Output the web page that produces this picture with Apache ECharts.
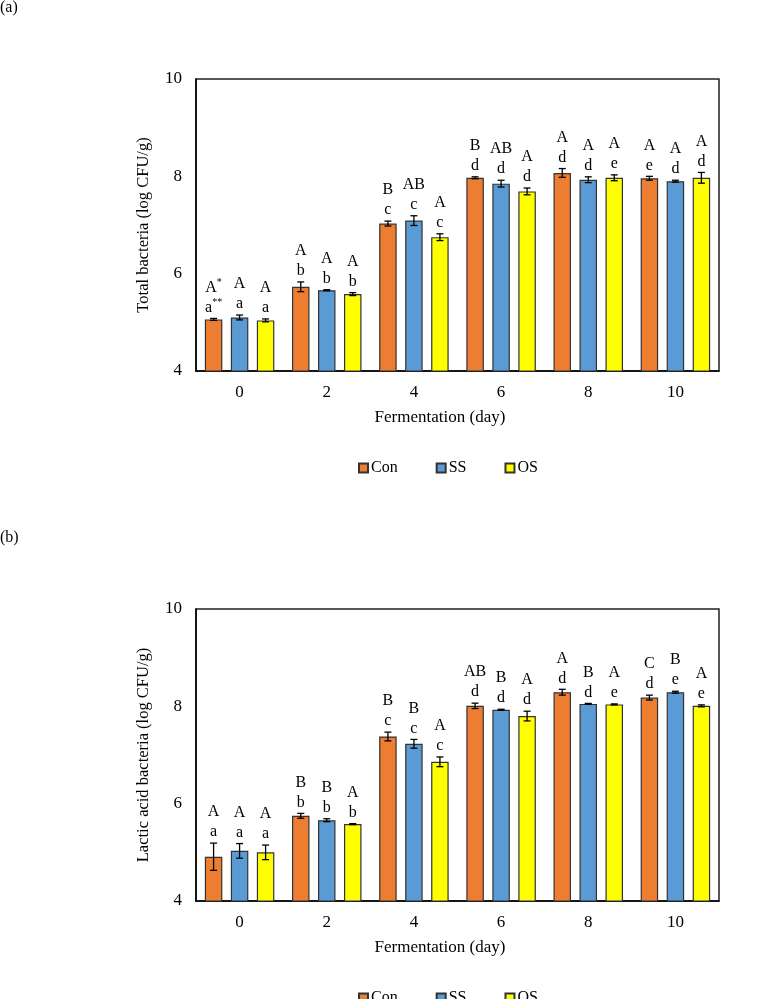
<!DOCTYPE html>
<html>
<head>
<meta charset="utf-8">
<script src="https://cdn.jsdelivr.net/npm/echarts@6/dist/echarts.min.js"></script>
<style>
  html, body { margin: 0; padding: 0; background: #fff; }
  #main { width: 757px; height: 999px; }
</style>
</head>
<body>
<div id="main"></div>
<script>
// fermentation days
const days = ['0', '2', '4', '6', '8', '10']

// (a) total bacteria, log CFU/g
const totalCon = [5.06, 5.73, 7.03, 7.97, 8.07, 7.96]
const totalConErr = [0.02, 0.10, 0.05, 0.02, 0.09, 0.04]
const totalSS = [5.10, 5.66, 7.09, 7.85, 7.93, 7.90]
const totalSSErr = [0.05, 0.01, 0.10, 0.07, 0.06, 0.02]
const totalOS = [5.04, 5.58, 6.75, 7.69, 7.97, 7.97]
const totalOSErr = [0.03, 0.03, 0.07, 0.07, 0.06, 0.11]
const totalConUpper = ['A*', 'A', 'B', 'B', 'A', 'A']
const totalConLower = ['a**', 'b', 'c', 'd', 'd', 'e']
const totalSSUpper = ['A', 'A', 'AB', 'AB', 'A', 'A']
const totalSSLower = ['a', 'b', 'c', 'd', 'd', 'd']
const totalOSUpper = ['A', 'A', 'A', 'A', 'A', 'A']
const totalOSLower = ['a', 'b', 'c', 'd', 'e', 'd']

// (b) lactic acid bacteria, log CFU/g
const lacCon = [4.91, 5.75, 7.38, 8.01, 8.29, 8.18]
const lacConErr = [0.28, 0.05, 0.09, 0.055, 0.06, 0.05]
const lacSS = [5.03, 5.66, 7.23, 7.93, 8.05, 8.29]
const lacSSErr = [0.15, 0.03, 0.09, 0.01, 0.01, 0.02]
const lacOS = [5.00, 5.58, 6.86, 7.80, 8.04, 8.01]
const lacOSErr = [0.15, 0.01, 0.10, 0.10, 0.01, 0.02]
const lacConUpper = ['A', 'B', 'B', 'AB', 'A', 'C']
const lacConLower = ['a', 'b', 'c', 'd', 'd', 'd']
const lacSSUpper = ['A', 'B', 'B', 'B', 'B', 'B']
const lacSSLower = ['a', 'b', 'c', 'd', 'd', 'e']
const lacOSUpper = ['A', 'A', 'A', 'A', 'A', 'A']
const lacOSLower = ['a', 'b', 'c', 'd', 'e', 'e']

const yTicks = [4, 6, 8, 10]

const names = ['Con', 'SS', 'OS']
const colors = ['#ED7D31', '#5B9BD5', '#FFFF00']
const FONT = '"Liberation Serif", "Times New Roman", serif'
const BAR_W = 17.5
const BAR_STEP = 26

// letters with trailing asterisks -> rich text with superscript
function richLetter(s) {
  let m = s.match(/^([^*]*)(\**)$/)
  let out = `{n|${m[1]}}`
  if (m[2]) out += `{s|${m[2]}}`
  return out
}

function errSeries(gridIdx, k, vals, errs, upper, lower) {
  let offset = (k - 1) * BAR_STEP
  return {
    type: 'custom',
    xAxisIndex: gridIdx,
    yAxisIndex: gridIdx,
    z: 5,
    clip: false,
    silent: true,
    encode: { x: 0, y: 1 },
    data: vals.map((v, i) => [i, v, errs[i]]),
    renderItem: (params, api) => {
      let i = api.value(0), v = api.value(1), e = api.value(2)
      let x = api.coord([i, v])[0] + offset
      let yt = api.coord([i, v + e])[1]
      let yb = api.coord([i, v - e])[1]
      let line = { stroke: '#000', lineWidth: 1.3 }
      let text = richLetter(upper[params.dataIndex]) + '\n' + richLetter(lower[params.dataIndex])
      return {
        type: 'group',
        children: [
          { type: 'line', shape: { x1: x, y1: yt, x2: x, y2: yb }, style: line },
          { type: 'line', shape: { x1: x - 3.5, y1: yt, x2: x + 3.5, y2: yt }, style: line },
          { type: 'line', shape: { x1: x - 3.5, y1: yb, x2: x + 3.5, y2: yb }, style: line },
          {
            type: 'text',
            style: {
              text: text,
              x: x,
              y: yt - 1,
              align: 'center',
              verticalAlign: 'bottom',
              fill: '#000',
              rich: {
                n: { fontFamily: FONT, fontSize: 16, lineHeight: 20, fill: '#000' },
                s: { fontFamily: FONT, fontSize: 10, lineHeight: 20, verticalAlign: 'top', fill: '#000', padding: [0, 0, 6, 0] }
              }
            }
          }
        ]
      }
    }
  }
}

function barSeries(gridIdx, k, vals) {
  return {
    name: names[k],
    type: 'bar',
    xAxisIndex: gridIdx,
    yAxisIndex: gridIdx,
    barWidth: BAR_W,
    barGap: ((BAR_STEP - BAR_W) / BAR_W * 100) + '%',
    data: vals,
    itemStyle: { color: colors[k], borderColor: '#333', borderWidth: 1.2 }
  }
}

function xAxis(gridIdx) {
  return {
    type: 'category',
    gridIndex: gridIdx,
    data: days,
    axisTick: { show: false },
    axisLine: { lineStyle: { color: '#000', width: 1.5 } },
    axisLabel: { color: '#000', fontFamily: FONT, fontSize: 17, margin: 13 }
  }
}

function yAxis(gridIdx, title) {
  return {
    type: 'value',
    gridIndex: gridIdx,
    min: yTicks[0],
    max: yTicks[yTicks.length - 1],
    interval: 2,
    name: title,
    nameLocation: 'middle',
    nameGap: 44,
    nameTextStyle: { color: '#000', fontFamily: FONT, fontSize: 16.5 },
    splitLine: { show: false },
    axisTick: { show: false },
    axisLine: { show: true, lineStyle: { color: '#000', width: 1.5 } },
    axisLabel: { color: '#000', fontFamily: FONT, fontSize: 17, margin: 14 }
  }
}

function legend(top) {
  return {
    data: names,
    left: 353,
    top: top,
    icon: 'rect',
    itemWidth: 9,
    itemHeight: 9,
    itemGap: 38,
    selectedMode: false,
    textStyle: { color: '#000', fontFamily: FONT, fontSize: 16, padding: [0, 0, 0, -2] }
  }
}

function textAt(x, y, s, size, align) {
  return {
    type: 'text',
    x: x,
    y: y,
    style: { text: s, fill: '#000', font: `${size}px ${FONT}`, align: align || 'left', verticalAlign: 'middle' }
  }
}

var chart = echarts.init(document.getElementById('main'))

let option = {
  animation: false,
  backgroundColor: '#fff',
  grid: [
    { left: 196, top: 79, width: 523, height: 292, show: true, borderColor: '#222', borderWidth: 1.5, backgroundColor: 'transparent' },
    { left: 196, top: 609, width: 523, height: 292, show: true, borderColor: '#222', borderWidth: 1.5, backgroundColor: 'transparent' }
  ],
  legend: [legend(455), legend(985)],
  xAxis: [xAxis(0), xAxis(1)],
  yAxis: [yAxis(0, 'Total bacteria (log CFU/g)'), yAxis(1, 'Lactic acid bacteria (log CFU/g)')],
  graphic: [
    textAt(0, 8, '(a)', 16),
    textAt(0, 538, '(b)', 16),
    textAt(440, 418, 'Fermentation (day)', 17, 'center'),
    textAt(440, 948, 'Fermentation (day)', 17, 'center')
  ],
  series: [
    barSeries(0, 0, totalCon),
    barSeries(0, 1, totalSS),
    barSeries(0, 2, totalOS),
    barSeries(1, 0, lacCon),
    barSeries(1, 1, lacSS),
    barSeries(1, 2, lacOS),
    errSeries(0, 0, totalCon, totalConErr, totalConUpper, totalConLower),
    errSeries(0, 1, totalSS, totalSSErr, totalSSUpper, totalSSLower),
    errSeries(0, 2, totalOS, totalOSErr, totalOSUpper, totalOSLower),
    errSeries(1, 0, lacCon, lacConErr, lacConUpper, lacConLower),
    errSeries(1, 1, lacSS, lacSSErr, lacSSUpper, lacSSLower),
    errSeries(1, 2, lacOS, lacOSErr, lacOSUpper, lacOSLower)
  ]
}

chart.setOption(option)
</script>
</body>
</html>
